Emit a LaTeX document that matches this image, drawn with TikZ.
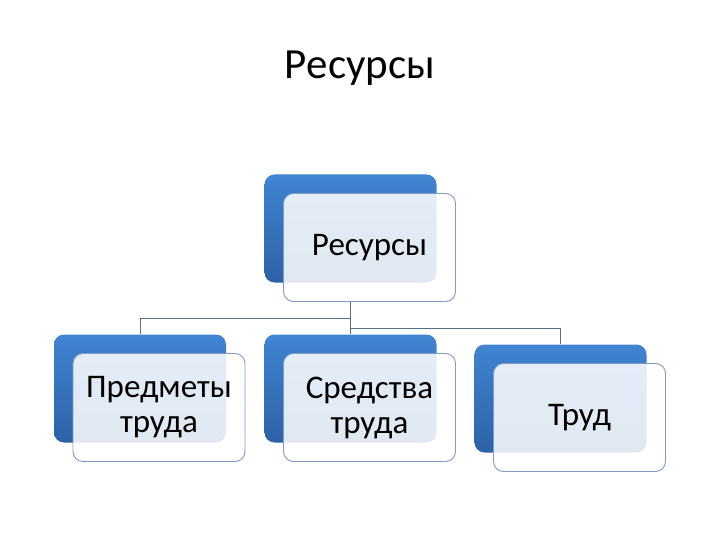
\documentclass[tikz,border=0pt]{standalone}
\usepackage{fontspec}
\setmainfont{Carlito}
\usetikzlibrary{calc}
\definecolor{bluetop}{HTML}{4084D2}
\definecolor{bluebot}{HTML}{2C62A6}
\definecolor{frontline}{HTML}{7D9BC6}
\definecolor{connc}{HTML}{56708C}
\tikzset{
  bluebox/.style={rounded corners=10pt, top color=bluetop, bottom color=bluebot, draw=none,
    minimum width=172pt, minimum height=108pt, inner sep=0pt},
  frontbox/.style={rounded corners=10pt, fill=white, fill opacity=0.86, text opacity=1,
    draw=frontline, line width=0.9pt, minimum width=172pt, minimum height=108pt,
    inner sep=0pt, align=center, font=\fontsize{33}{38}\selectfont, text=black},
  conn/.style={draw=connc, line width=0.9pt},
}
\begin{document}
\begin{tikzpicture}[x=1pt,y=-1pt]
\useasboundingbox (0,0) rectangle (720,540);
\node[font=\fontsize{43}{50}\selectfont] (title) at (360,68) {Ресурсы};
\node[bluebox] (topblue) at (350.5,228.5) {};
\node[bluebox] (b1blue) at (140,388.5) {};
\node[bluebox] (b2blue) at (350.5,388.5) {};
\node[bluebox] (b3blue) at (560.5,398.5) {};
\draw[conn] (topblue.south |- 0,301) -- (b2blue.north);
\draw[conn] (b1blue.north) -- ++(0,-16) -| (topblue.south |- 0,301);
\draw[conn] (b3blue.north) -- ++(0,-16) -| (topblue.south |- 0,301);
\node[frontbox] (topfront) at ($(topblue)+(19,19)$) {Ресурсы};
\node[frontbox] (b1front) at ($(b1blue)+(19,19)$) {Предметы\\[-3pt]труда};
\node[frontbox] (b2front) at ($(b2blue)+(19,19)$) {Средства\\[-3pt]труда};
\node[frontbox] (b3front) at ($(b3blue)+(19,19)$) {Труд};
\end{tikzpicture}
\end{document}
